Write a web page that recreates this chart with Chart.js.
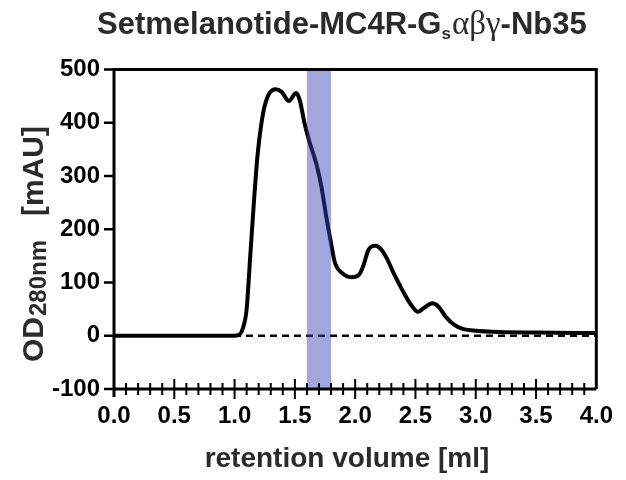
<!DOCTYPE html>
<html>
<head>
<meta charset="utf-8">
<script src="https://cdn.jsdelivr.net/npm/chart.js@4.4.1/dist/chart.umd.min.js"></script>
<style>
  body { margin: 0; background: #fff; }
  canvas { display: block; }
</style>
</head>
<body>
<canvas id="chart" width="626" height="480"></canvas>
<script>
// retention volume (ml) and absorbance at 280 nm (mAU)
const volumes = [0.0, 0.5, 0.95, 1.03, 1.07, 1.10, 1.13, 1.16, 1.19, 1.22, 1.25, 1.29, 1.34, 1.39, 1.45,
  1.51, 1.54, 1.58, 1.62, 1.68, 1.72, 1.76, 1.80, 1.83, 1.89, 1.97, 2.03, 2.07, 2.11, 2.17, 2.22,
  2.27, 2.32, 2.37, 2.42, 2.47, 2.52, 2.57, 2.64, 2.69, 2.75, 2.82, 2.89, 2.98, 3.2, 3.5, 4.0];
const absorbance = [0, 0, 0, 1, 15, 50, 150, 250, 338, 395, 432, 456, 463, 458, 441,
  456, 443, 399, 365, 321, 280, 224, 174, 139, 118, 110, 114, 133, 161, 169, 161,
  142, 117, 95, 74, 56, 45, 52, 61, 55, 36, 21, 13, 10, 7, 6, 5];

// shaded fraction
const bandStart = 1.6;
const bandEnd = 1.8;

// axes
const xMin = 0, xMax = 4, xMajor = 0.5, xMinor = 0.1;
const yMin = -100, yMax = 500, yStep = 100;

const sans = 'Liberation Sans, Arial, Helvetica, sans-serif';
const serif = 'Liberation Serif, Times New Roman, serif';

// draw a row of text pieces one after the other
function drawRuns(ctx, runs, x, y) {
  for (const r of runs) {
    ctx.font = r.font;
    ctx.fillText(r.text, x, y + (r.dy || 0));
    x += ctx.measureText(r.text).width + (r.gap || 0);
  }
}

const decor = {
  id: 'decor',
  beforeDatasetsDraw(chart) {
    const { ctx, scales: { x, y } } = chart;
    // dashed zero line
    ctx.save();
    ctx.strokeStyle = '#000';
    ctx.lineWidth = 2.5;
    ctx.setLineDash([7, 5]);
    ctx.beginPath();
    ctx.moveTo(x.getPixelForValue(xMin), y.getPixelForValue(0));
    ctx.lineTo(x.getPixelForValue(xMax), y.getPixelForValue(0));
    ctx.stroke();
    ctx.restore();
  },
  afterDatasetsDraw(chart) {
    const { ctx, chartArea: a, scales: { x, y } } = chart;
    ctx.save();
    // blue band over the trace
    const b0 = x.getPixelForValue(bandStart);
    const b1 = x.getPixelForValue(bandEnd);
    ctx.fillStyle = 'rgba(60, 65, 180, 0.47)';
    ctx.fillRect(b0, a.top, b1 - b0, a.bottom - a.top);

    // frame
    ctx.strokeStyle = '#000';
    ctx.lineWidth = 3;
    ctx.lineCap = 'butt';
    ctx.beginPath();
    ctx.moveTo(a.left, a.bottom + 8);
    ctx.lineTo(a.left, a.top);
    ctx.lineTo(a.right, a.top);
    ctx.lineTo(a.right, a.bottom);
    ctx.moveTo(a.left, a.bottom);
    ctx.lineTo(a.right, a.bottom);
    ctx.stroke();

    // y ticks
    ctx.lineWidth = 2.5;
    ctx.beginPath();
    for (let v = yMin; v <= yMax; v += yStep) {
      const py = y.getPixelForValue(v);
      ctx.moveTo(a.left - 10, py);
      ctx.lineTo(a.left, py);
    }
    ctx.stroke();

    // x ticks, crossing the axis
    ctx.lineWidth = 2;
    ctx.beginPath();
    const n = Math.round((xMax - xMin) / xMinor);
    for (let i = 1; i < n; i++) {
      const v = xMin + i * xMinor;
      const px = x.getPixelForValue(v);
      const major = i % Math.round(xMajor / xMinor) === 0;
      ctx.moveTo(px, a.bottom - (major ? 10 : 6));
      ctx.lineTo(px, a.bottom + (major ? 10 : 6));
    }
    ctx.stroke();
    ctx.restore();
  },
  afterDraw(chart) {
    const { ctx } = chart;
    ctx.save();
    ctx.fillStyle = '#2b2b2b';
    ctx.textBaseline = 'alphabetic';
    ctx.textAlign = 'left';

    // title
    drawRuns(ctx, [
      { text: 'Setmelanotide-MC4R-G', font: 'bold 31px ' + sans },
      { text: 's', font: 'bold 17px ' + sans, dy: 5, gap: 1 },
      { text: '\u03b1\u03b2\u03b3', font: '33px ' + serif },
      { text: '-Nb35', font: 'bold 31px ' + sans }
    ], 97, 34);

    // x title
    ctx.font = 'bold 28px ' + sans;
    ctx.textAlign = 'center';
    ctx.fillText('retention volume [ml]', 347, 467);

    // y title, rotated
    ctx.translate(43, 362);
    ctx.rotate(-Math.PI / 2);
    ctx.textAlign = 'left';
    drawRuns(ctx, [
      { text: 'OD', font: 'bold 30px ' + sans, gap: 1 },
      { text: '280nm', font: 'bold 24px ' + sans, dy: 3, gap: 24 },
      { text: '[mAU]', font: 'bold 30px ' + sans }
    ], 0, 0);
    ctx.restore();
  }
};

new Chart(document.getElementById('chart'), {
  type: 'line',
  data: {
    datasets: [{
      data: volumes.map((v, i) => ({ x: v, y: absorbance[i] })),
      borderColor: '#000',
      borderWidth: 4,
      pointRadius: 0,
      cubicInterpolationMode: 'monotone',
      fill: false
    }]
  },
  options: {
    responsive: false,
    animation: false,
    layout: { padding: { left: 0, right: 29, top: 69.5, bottom: 0 } },
    plugins: { legend: { display: false }, tooltip: { enabled: false }, title: { display: false } },
    scales: {
      x: {
        type: 'linear',
        min: xMin,
        max: xMax,
        grid: { display: false, drawTicks: false },
        border: { display: false },
        ticks: {
          stepSize: xMajor,
          autoSkip: false,
          maxRotation: 0,
          padding: 13,
          color: '#000',
          font: { family: sans, size: 24, weight: 'bold' },
          callback: (v) => Number(v).toFixed(1)
        },
        afterFit: (s) => { s.height = 91; }
      },
      y: {
        min: yMin,
        max: yMax,
        grid: { display: false, drawTicks: false },
        border: { display: false },
        ticks: {
          stepSize: yStep,
          padding: 14,
          color: '#000',
          font: { family: sans, size: 24, weight: 'bold' },
          callback: (v) => String(v)
        },
        afterFit: (s) => { s.width = 114; }
      }
    }
  },
  plugins: [decor]
});
</script>
</body>
</html>
